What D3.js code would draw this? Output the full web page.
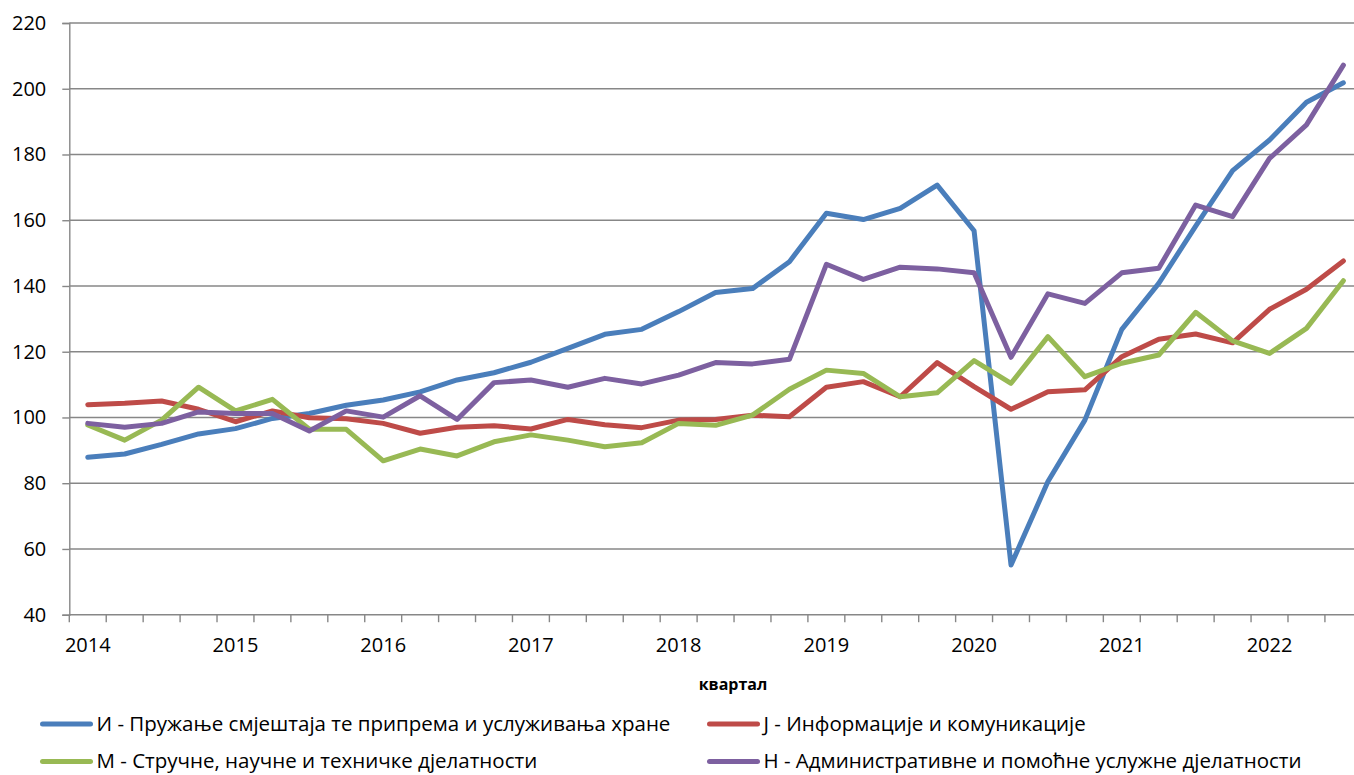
<!DOCTYPE html>
<html>
<head>
<meta charset="utf-8">
<script src="https://cdn.jsdelivr.net/npm/d3@7"></script>
<style>
  body { margin: 0; background: #fff; }
  svg { display: block; font-family: "Open Sans", "Noto Sans", sans-serif; }
</style>
</head>
<body>
<div class="chart"></div>
<script>
// categories: quarters 2014 Q1 .. 2022 Q3
var years = ["2014", "2015", "2016", "2017", "2018", "2019", "2020", "2021", "2022"];
var quarterNames = ["Q1", "Q2", "Q3", "Q4"];
var quarters = [];
years.forEach(function (y) {
  quarterNames.forEach(function (q) { quarters.push(y + " " + q); });
});
quarters = quarters.slice(0, 35);

var yTicks = [40, 60, 80, 100, 120, 140, 160, 180, 200, 220];

var seriesNames = [
  "И - Пружање смјештаја те припрема и услуживања хране",
  "J - Информације и комуникације",
  "M - Стручне, научне и техничке дјелатности",
  "Н - Административне и помоћне услужне дјелатности"
];

var valuesI = [87.9, 88.9, 91.8, 95.0, 96.6, 99.7, 101.2, 103.7, 105.3, 107.8, 111.4, 113.6,
  116.8, 121.0, 125.3, 126.8, 132.2, 138.0, 139.2, 147.4, 162.1, 160.2, 163.6, 170.7,
  156.8, 55.1, 80.5, 99.2, 126.8, 140.8, 158.2, 175.1, 184.4, 195.9, 201.8];
var valuesJ = [103.9, 104.3, 105.0, 102.5, 98.7, 102.0, 99.9, 99.6, 98.2, 95.2, 97.0, 97.5,
  96.5, 99.4, 97.8, 96.9, 99.2, 99.4, 100.7, 100.2, 109.2, 110.9, 106.3, 116.7,
  109.4, 102.5, 107.8, 108.4, 118.5, 123.8, 125.4, 122.7, 132.9, 139.0, 147.6];
var valuesM = [97.7, 93.1, 99.2, 109.2, 102.0, 105.5, 96.4, 96.4, 86.8, 90.4, 88.3, 92.6,
  94.7, 93.1, 91.1, 92.3, 98.2, 97.6, 100.7, 108.6, 114.4, 113.4, 106.3, 107.5,
  117.3, 110.4, 124.6, 112.4, 116.5, 119.0, 132.0, 123.3, 119.5, 127.1, 141.6];
var valuesN = [98.2, 97.0, 98.2, 101.7, 101.2, 101.2, 95.9, 102.0, 100.1, 106.6, 99.4, 110.6,
  111.4, 109.2, 111.9, 110.2, 112.9, 116.7, 116.3, 117.7, 146.6, 142.0, 145.7, 145.2,
  144.0, 118.3, 137.6, 134.7, 144.0, 145.4, 164.6, 161.1, 178.8, 189.0, 207.2];

var seriesValues = [valuesI, valuesJ, valuesM, valuesN];
var colors = ["#4a7ebb", "#be4b48", "#98b954", "#7d60a0"];

var svgWidth = 1354;
var svgHeight = 775;

// plot area (the right edge runs past the picture, as in the original)
var plot = { left: 69.3, top: 23, bottom: 614.7, step: 36.93 };
plot.right = plot.left + plot.step * quarters.length;

var svg = d3.select(".chart")
  .append("svg")
  .attr("width", svgWidth)
  .attr("height", svgHeight);

var x = d3.scaleBand()
  .domain(quarters)
  .range([plot.left, plot.right])
  .padding(0);

var y = d3.scaleLinear()
  .domain([40, 220])
  .range([plot.bottom, plot.top]);

var gridColor = "#878787";

// horizontal gridlines
svg.append("g")
  .selectAll("line")
  .data(yTicks.filter(function (t) { return t > 40; }))
  .enter()
  .append("line")
  .attr("x1", plot.left)
  .attr("x2", plot.right)
  .attr("y1", function (d) { return y(d); })
  .attr("y2", function (d) { return y(d); })
  .attr("stroke", gridColor)
  .attr("stroke-width", 1.4);

// y axis
var leftAxis = d3.axisLeft(y).tickValues(yTicks).tickSize(7).tickPadding(16);
var yAxis = svg.append("g")
  .attr("transform", "translate(" + plot.left + ",0)")
  .call(leftAxis);
yAxis.select(".domain").attr("stroke", gridColor).attr("stroke-width", 1.4);
yAxis.selectAll(".tick line").attr("stroke", gridColor).attr("stroke-width", 1.4);
yAxis.selectAll(".tick text")
  .attr("font-size", 20)
  .attr("font-family", "Open Sans")
  .attr("fill", "#000");

// x axis: labels on Q1 categories, tick marks between categories
var bottomAxis = d3.axisBottom(x)
  .tickValues(quarters.filter(function (q) { return q.endsWith("Q1"); }))
  .tickFormat(function (d) { return d.slice(0, 4); })
  .tickSize(0)
  .tickPadding(23);
var xAxis = svg.append("g")
  .attr("transform", "translate(0," + plot.bottom + ")")
  .call(bottomAxis);
xAxis.select(".domain").remove();
xAxis.selectAll(".tick text")
  .attr("font-size", 20)
  .attr("font-family", "Open Sans")
  .attr("fill", "#000");

svg.append("line")
  .attr("x1", plot.left)
  .attr("x2", plot.right)
  .attr("y1", plot.bottom)
  .attr("y2", plot.bottom)
  .attr("stroke", gridColor)
  .attr("stroke-width", 1.4);

svg.append("g")
  .selectAll("line")
  .data(quarters.concat(["end"]))
  .enter()
  .append("line")
  .attr("x1", function (d) { return d === "end" ? plot.right : x(d); })
  .attr("x2", function (d) { return d === "end" ? plot.right : x(d); })
  .attr("y1", plot.bottom)
  .attr("y2", plot.bottom + 7.5)
  .attr("stroke", gridColor)
  .attr("stroke-width", 1.4);

// axis title
svg.append("text")
  .attr("x", 733)
  .attr("y", 690)
  .attr("text-anchor", "middle")
  .attr("font-size", 16)
  .attr("font-weight", "bold")
  .text("квартал");

// lines
var line = d3.line()
  .x(function (d, i) { return x(quarters[i]) + x.bandwidth() / 2; })
  .y(function (d) { return y(d); });

svg.append("g")
  .selectAll("path")
  .data(seriesValues)
  .enter()
  .append("path")
  .attr("d", line)
  .attr("fill", "none")
  .attr("stroke", function (d, i) { return colors[i]; })
  .attr("stroke-width", 5)
  .attr("stroke-linejoin", "round")
  .attr("stroke-linecap", "round");

// legend, two rows of two (second row nudged up so descenders stay inside)
var legendPos = [[42.5, 724], [709.5, 724], [42.5, 761.5], [709.5, 761.5]];
var legend = svg.append("g")
  .selectAll("g")
  .data(seriesNames)
  .enter()
  .append("g")
  .attr("transform", function (d, i) { return "translate(" + legendPos[i][0] + "," + legendPos[i][1] + ")"; });

legend.append("line")
  .attr("x1", 0)
  .attr("x2", 48)
  .attr("stroke", function (d, i) { return colors[i]; })
  .attr("stroke-width", 5)
  .attr("stroke-linecap", "round");

legend.append("text")
  .attr("x", 54)
  .attr("y", 0)
  .attr("dy", "0.33em")
  .attr("font-size", 20.5)
  .attr("fill", "#000")
  .text(function (d) { return d; });
</script>
</body>
</html>
